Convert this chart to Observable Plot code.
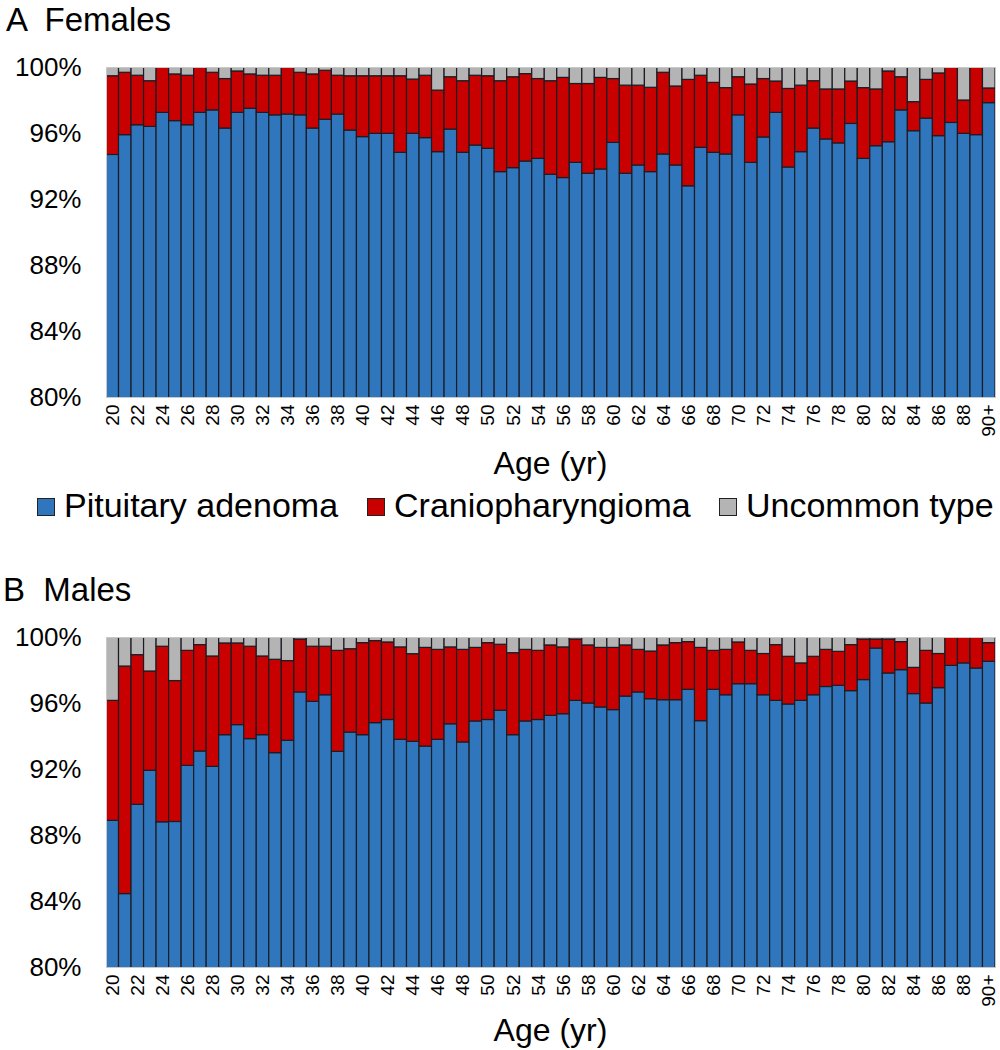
<!DOCTYPE html>
<html><head><meta charset="utf-8">
<script src="https://cdn.jsdelivr.net/npm/d3@7"></script>
<script src="https://cdn.jsdelivr.net/npm/@observablehq/plot@0.6"></script>
<style>
body{margin:0;background:#fff;font-family:"Liberation Sans",Arial,sans-serif;}
#wrap{position:relative;width:1000px;height:1050px;overflow:hidden;background:#fff}
.t{position:absolute;white-space:pre;color:#000}
.sw{position:absolute;width:18px;height:18px;border:1px solid #222;box-sizing:border-box}
.chart{position:absolute;left:0}
</style></head><body><div id="wrap"></div>
<script>
const ages = ["20","21","22","23","24","25","26","27","28","29",
  "30","31","32","33","34","35","36","37","38","39",
  "40","41","42","43","44","45","46","47","48","49",
  "50","51","52","53","54","55","56","57","58","59",
  "60","61","62","63","64","65","66","67","68","69",
  "70","71","72","73","74","75","76","77","78","79",
  "80","81","82","83","84","85","86","87","88","89","90+"];
const xTickLabels = ["20","22","24","26","28","30","32","34","36","38","40","42","44","46","48","50","52","54","56","58","60","62","64","66","68","70","72","74","76","78","80","82","84","86","88","90+"];
const yTicks = [80, 84, 88, 92, 96, 100];
const types = ["Pituitary adenoma", "Craniopharyngioma", "Uncommon type"];
const colors = ["#2f76bc", "#c80000", "#b4b4b4"];

// Females (% of tumours)
const femalePituitary = [94.7,95.9,96.5,96.4,97.25,96.75,96.5,97.25,97.4,96.3,
 97.25,97.5,97.25,97.1,97.15,97.1,96.3,96.83,97.15,96.18,
 95.78,95.98,95.98,94.83,95.98,95.72,94.87,96.24,94.83,95.27,
 95.07,93.66,93.9,94.3,94.46,93.5,93.3,94.22,93.56,93.82,
 95.43,93.56,94.06,93.66,94.73,94.06,92.8,95.13,94.83,94.73,
 97.1,94.22,95.76,97.25,93.94,94.87,96.3,95.64,95.4,96.58,
 94.46,95.23,95.47,97.4,96.14,96.9,95.84,96.64,95.98,95.9,
 97.84];
const femaleCranio = [4.77,3.78,3.0,2.77,2.75,2.83,3.0,2.75,2.28,3.0,
 2.51,2.08,2.25,2.4,2.85,2.58,3.28,2.97,2.35,3.29,
 3.69,3.49,3.49,4.64,3.29,3.78,3.73,3.17,4.34,4.23,
 4.4,5.51,5.51,5.3,4.84,5.67,6.07,4.78,5.44,5.55,
 3.87,5.34,4.84,5.11,4.95,4.79,6.45,4.37,4.24,4.02,
 2.31,4.75,3.54,1.9,4.76,4.03,2.87,3.03,3.27,2.57,
 4.29,3.44,4.29,2.01,1.76,2.35,3.8,3.36,2.02,4.1,
 0.89];
const femaleUncommon = [0.53,0.32,0.5,0.83,0,0.42,0.5,0,0.32,0.7,
 0.24,0.42,0.5,0.5,0,0.32,0.42,0.2,0.5,0.53,
 0.53,0.53,0.53,0.53,0.73,0.5,1.4,0.59,0.83,0.5,
 0.53,0.83,0.59,0.4,0.7,0.83,0.63,1.0,1.0,0.63,
 0.7,1.1,1.1,1.23,0.32,1.15,0.75,0.5,0.93,1.25,
 0.59,1.03,0.7,0.85,1.3,1.1,0.83,1.33,1.33,0.85,
 1.25,1.33,0.24,0.59,2.1,0.75,0.36,0,2.0,0,
 1.27];

// Males (% of tumours)
const malePituitary = [88.89,84.45,89.86,91.92,88.8,88.82,92.22,93.09,92.16,94.08,
 94.69,93.84,94.08,92.99,93.74,96.67,96.1,96.5,93.07,94.24,
 94.08,94.81,95.0,93.8,93.68,93.39,93.8,94.74,93.64,94.91,
 95.0,95.56,94.08,94.91,95.0,95.25,95.35,96.16,96.0,95.76,
 95.6,96.42,96.67,96.26,96.2,96.2,96.83,94.93,96.83,96.5,
 97.17,97.17,96.5,96.16,95.94,96.16,96.5,97.0,97.07,96.75,
 97.42,99.33,97.82,98.02,96.57,96.0,96.93,98.28,98.43,98.12,
 98.53];
const maleCranio = [7.27,13.79,9.07,6.02,10.64,8.54,6.97,6.45,6.69,5.56,
 4.95,5.6,4.77,5.66,4.83,3.21,3.34,2.94,6.12,5.05,
 5.58,4.97,4.7,5.6,5.31,5.98,5.45,4.66,5.61,4.46,
 4.66,4.0,4.97,4.34,4.19,4.27,4.05,3.72,3.52,3.61,
 3.77,3.1,2.58,2.89,3.32,3.46,2.89,4.44,2.36,2.75,
 2.53,2.02,2.5,3.38,2.89,2.27,2.33,2.25,2.06,2.79,
 2.46,0.55,2.06,1.7,1.59,3.19,2.07,1.72,1.57,1.88,
 1.13];
const maleUncommon = [3.84,1.76,1.07,2.06,0.56,2.64,0.81,0.46,1.15,0.36,
 0.36,0.56,1.15,1.35,1.43,0.12,0.56,0.56,0.81,0.71,
 0.34,0.22,0.3,0.6,1.01,0.63,0.75,0.6,0.75,0.63,
 0.34,0.44,0.95,0.75,0.81,0.48,0.6,0.12,0.48,0.63,
 0.63,0.48,0.75,0.85,0.48,0.34,0.28,0.63,0.81,0.75,
 0.3,0.81,1.0,0.46,1.17,1.57,1.17,0.75,0.87,0.46,
 0.12,0.12,0.12,0.28,1.84,0.81,1.0,0,0,0,
 0.34];

const wrap = document.getElementById("wrap");
const FONT = '"Liberation Sans", Arial, sans-serif';

// place a text so that its baseline sits at y = baseline (line-height lh, in em)
function addText(txt, left, baseline, size, lh, extra) {
  const d = document.createElement("div");
  d.className = "t";
  d.textContent = txt;
  d.style.left = left + "px";
  d.style.lineHeight = String(lh);
  d.style.top = (baseline - size * (lh / 2 + 0.3465)) + "px";
  d.style.fontSize = size + "px";
  if (extra) Object.assign(d.style, extra);
  wrap.appendChild(d);
  return d;
}

function panel(pit, cra, unc, top) {
  const rows = [];
  ages.forEach((a, i) => {
    rows.push({age: a, type: types[0], value: pit[i]});
    rows.push({age: a, type: types[1], value: cra[i]});
    rows.push({age: a, type: types[2], value: unc[i]});
  });
  const chart = Plot.plot({
    width: 1000,
    height: 411,
    marginTop: 28,
    marginBottom: 53,
    marginLeft: 106,
    marginRight: 5,
    style: {fontFamily: FONT, color: "#000", background: "transparent", overflow: "visible"},
    x: {domain: ages, padding: 0},
    y: {domain: [80, 100]},
    color: {domain: types, range: colors},
    marks: [
      Plot.barY(rows, {x: "age", y: "value", fill: "type", order: types,
        stroke: "#1c1c24", strokeWidth: 1.2, clip: true}),
      Plot.frame({stroke: "#c8c8c8"}),
      Plot.axisY({ticks: yTicks, tickFormat: d => d + "%", tickSize: 0, tickPadding: 25,
        fontSize: 26, label: null}),
      Plot.axisX({ticks: xTickLabels, tickRotate: -90, tickSize: 0, tickPadding: 7,
        fontSize: 19, label: null})
    ]
  });
  chart.classList.add("chart");
  chart.style.top = top + "px";
  wrap.appendChild(chart);
}

// Panel A
addText("A  Females", 6, 31, 33, 1.0);
panel(femalePituitary, femaleCranio, femaleUncommon, 39);
addText("Age (yr)", 0, 474, 32, 1.15, {width: "1101px", textAlign: "center"});

// Legend
const legendItems = [[37, 0], [367, 1], [719, 2]];
legendItems.forEach(([x, k]) => {
  const s = document.createElement("div");
  s.className = "sw";
  s.style.left = x + "px";
  s.style.top = "498px";
  s.style.background = colors[k];
  wrap.appendChild(s);
  addText(types[k], x + 27, 517, 34, 1.15);
});

// Panel B
addText("B  Males", 3, 601, 33, 1.0);
panel(malePituitary, maleCranio, maleUncommon, 609);
addText("Age (yr)", 0, 1041, 32, 1.15, {width: "1101px", textAlign: "center"});
</script></body></html>
